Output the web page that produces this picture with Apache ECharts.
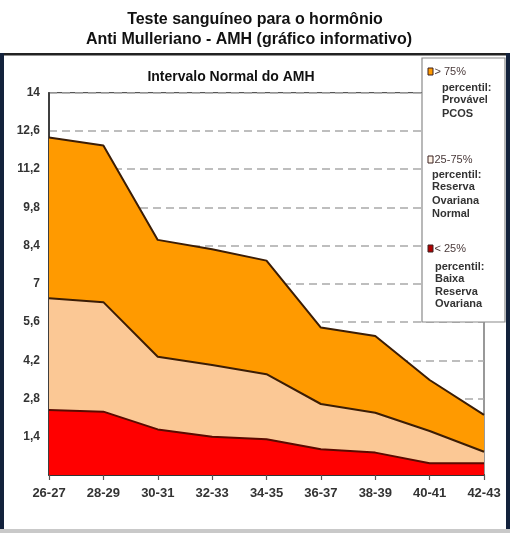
<!DOCTYPE html>
<html>
<head>
<meta charset="utf-8">
<script src="https://cdn.jsdelivr.net/npm/echarts@6/dist/echarts.min.js"></script>
<style>
html,body{margin:0;padding:0;background:#fff;}
#chart{width:510px;height:533px;}
</style>
</head>
<body>
<div id="chart"></div>
<script>
// Age groups (years)
var categories = ['26-27','28-29','30-31','32-33','34-35','36-37','38-39','40-41','42-43'];
// Upper boundary of each band (AMH, ng/mL)
var p75Upper = [12.36, 12.07, 8.61, 8.27, 7.85, 5.40, 5.09, 3.48, 2.20];   // > 75% band top
var p25to75Upper = [6.47, 6.33, 4.33, 4.03, 3.69, 2.60, 2.28, 1.61, 0.85]; // 25-75% band top
var p25Upper = [2.38, 2.32, 1.67, 1.40, 1.31, 0.94, 0.82, 0.43, 0.43];     // < 25% band top
var yMax = 14;
var yStep = 1.4;

var titleLines = ['Teste sanguíneo para o hormônio', 'Anti Mulleriano - AMH (gráfico informativo)'];
var subTitle = 'Intervalo Normal do AMH';
var legendBlocks = [
  {head: '> 75%', lines: ['percentil:', 'Provável', 'PCOS']},
  {head: '25-75%', lines: ['percentil:', 'Reserva', 'Ovariana', 'Normal']},
  {head: '< 25%', lines: ['percentil:', 'Baixa', 'Reserva', 'Ovariana']}
];

var FONT = '"Liberation Sans", Arial, sans-serif';
var cOrange = '#ff9a00', cBeige = '#fbc895', cRed = '#ff0000';
var cEdge = '#3b1d05';

var chart = echarts.init(document.getElementById('chart'), null, {renderer: 'canvas'});

function legendGraphics() {
  var g = [];
  g.push({type: 'rect', shape: {x: 422, y: 58, width: 83, height: 264},
    style: {fill: '#fff', stroke: '#8a8a8a', lineWidth: 1.2}, z: 100});
  var iconFill = [cOrange, '#fff3e6', '#b00000'];
  var heads = [72, 160, 249];
  var lineY = [[87.5, 100, 113.5], [174.5, 187, 200.5, 214], [267, 279, 291.5, 303.5]];
  var lineX = [442, 432, 435];
  for (var i = 0; i < legendBlocks.length; i++) {
    g.push({type: 'rect', shape: {x: 428, y: heads[i] - 4, width: 5, height: 7},
      style: {fill: iconFill[i], stroke: '#3a2020', lineWidth: 1}, z: 101});
    g.push({type: 'text', x: 434.5, y: heads[i], z: 101,
      style: {text: legendBlocks[i].head, font: '11px ' + FONT, fill: '#4a3a3a',
        textVerticalAlign: 'middle', textAlign: 'left'}});
    for (var j = 0; j < legendBlocks[i].lines.length; j++) {
      g.push({type: 'text', x: lineX[i], y: lineY[i][j], z: 101,
        style: {text: legendBlocks[i].lines[j], font: 'bold 11px ' + FONT, fill: '#333',
          textVerticalAlign: 'middle', textAlign: 'left'}});
    }
  }
  return g;
}

var graphics = [
  {type: 'rect', shape: {x: 0, y: 53, width: 510, height: 2.5}, style: {fill: '#222'}, z: 50},
  {type: 'rect', shape: {x: 0, y: 53, width: 4, height: 480}, style: {fill: '#13223c'}, z: 50},
  {type: 'rect', shape: {x: 506, y: 53, width: 4, height: 480}, style: {fill: '#13223c'}, z: 50},
  {type: 'rect', shape: {x: 0, y: 529, width: 510, height: 4}, style: {fill: '#c9c9c9'}, z: 50},
  {type: 'text', x: 255, y: 20, style: {text: titleLines[0], font: 'bold 16px ' + FONT, fill: '#111', textAlign: 'center', textVerticalAlign: 'middle'}},
  {type: 'text', x: 249, y: 40, style: {text: titleLines[1], font: 'bold 16px ' + FONT, fill: '#111', textAlign: 'center', textVerticalAlign: 'middle'}},
  {type: 'text', x: 231, y: 77, style: {text: subTitle, font: 'bold 14px ' + FONT, fill: '#111', textAlign: 'center', textVerticalAlign: 'middle'}}
].concat(legendGraphics());

function areaSeries(name, data, fill, edge) {
  return {
    name: name, type: 'line', data: data, symbol: 'none', smooth: false,
    lineStyle: {color: edge, width: 2},
    areaStyle: {color: fill, opacity: 1},
    z: 2
  };
}

chart.setOption({
  animation: false,
  backgroundColor: '#fff',
  grid: {left: 49, right: 26, top: 92.7, bottom: 58, show: true, borderColor: '#555', borderWidth: 1.2, backgroundColor: 'transparent'},
  xAxis: {
    type: 'category', data: categories, boundaryGap: false,
    axisLine: {show: true, lineStyle: {color: '#333', width: 2}},
    axisTick: {show: true, alignWithLabel: true, length: 5, lineStyle: {color: '#555', width: 1.2}},
    axisLabel: {color: '#333', fontFamily: FONT, fontWeight: 'bold', fontSize: 13, margin: 12},
    splitLine: {show: false}
  },
  yAxis: {
    type: 'value', min: 0, max: yMax, interval: yStep,
    axisLine: {show: true, lineStyle: {color: '#222', width: 1.5}},
    axisTick: {show: false},
    axisLabel: {color: '#333', fontFamily: FONT, fontWeight: 'bold', fontSize: 12, margin: 9,
      formatter: function (v) { if (v === 0) return ''; return (Math.round(v * 10) / 10).toString().replace('.', ','); }},
    splitLine: {show: true, lineStyle: {color: '#a9a9a9', type: [8, 5], width: 1.5}}
  },
  series: [
    areaSeries('> 75%', p75Upper, cOrange, cEdge),
    areaSeries('25-75%', p25to75Upper, cBeige, cEdge),
    areaSeries('< 25%', p25Upper, cRed, '#5a0a00')
  ],
  graphic: graphics
});
</script>
</body>
</html>
